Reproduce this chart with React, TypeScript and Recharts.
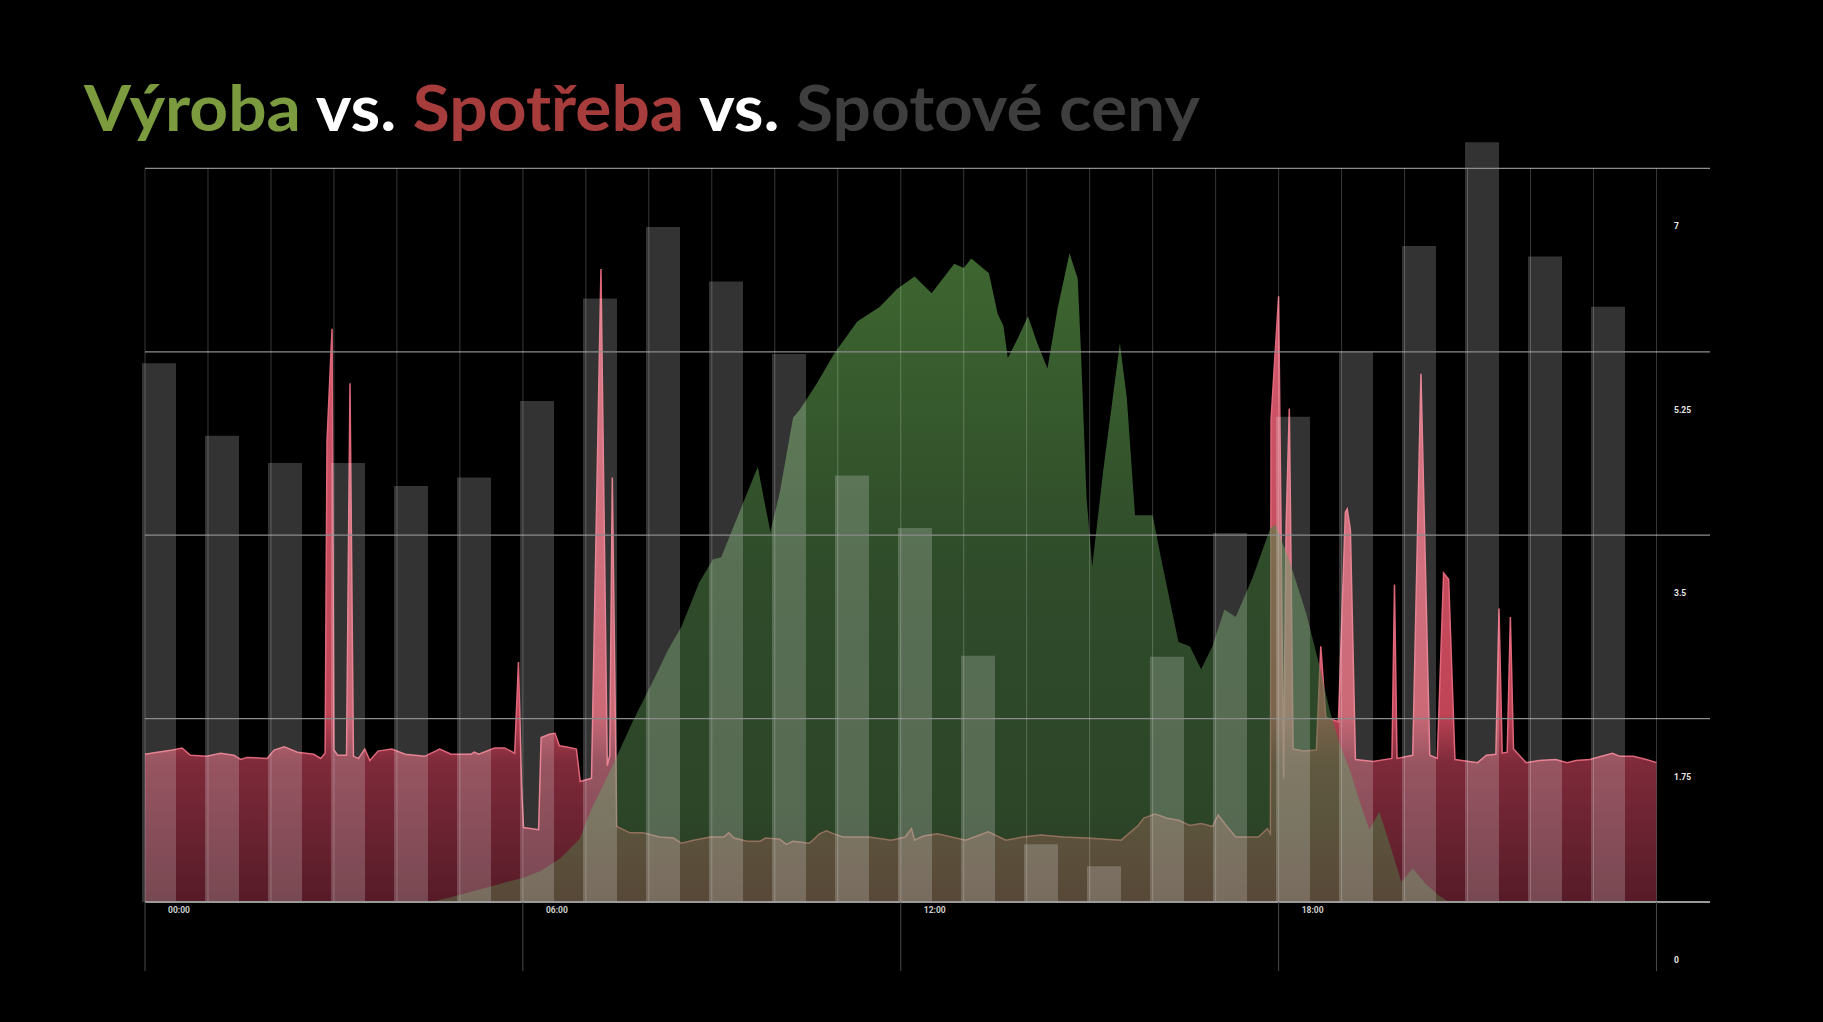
import { ComposedChart, Area, Bar, XAxis, YAxis, ReferenceLine } from 'recharts';

// hourly spot price (bars)
const hours = ['00', '01', '02', '03', '04', '05', '06', '07', '08', '09', '10', '11',
  '12', '13', '14', '15', '16', '17', '18', '19', '20', '21', '22', '23'];
const spotPrice = [5.14, 4.45, 4.19, 4.19, 3.97, 4.05, 4.78, 5.76, 6.44, 5.92, 5.23, 4.07,
  3.57, 2.35, 0.55, 0.34, 2.34, 3.52, 4.63, 5.25, 6.26, 7.25, 6.16, 5.68];

// consumption (red), time in hours
const consumptionTime = [
  0, 0.2, 0.44, 0.59, 0.72, 0.98, 1.2, 1.41, 1.52, 1.62, 1.94, 2.05, 2.21, 2.42, 2.68, 2.79,
  2.86, 2.89, 2.97, 3.0, 3.06, 3.2, 3.255, 3.31, 3.39, 3.49, 3.57, 3.7, 3.92, 4.13, 4.44, 4.68,
  4.86, 5.18, 5.23, 5.3, 5.55, 5.71, 5.87, 5.93, 5.98, 6.01, 6.25, 6.29, 6.42, 6.51, 6.58, 6.7,
  6.85, 6.91, 7.09, 7.24, 7.34, 7.38, 7.42, 7.49, 7.7, 7.91, 8.17, 8.39, 8.52, 8.71, 8.98, 9.19,
  9.27, 9.35, 9.56, 9.77, 9.85, 10.08, 10.18, 10.29, 10.55, 10.71, 10.82, 10.94, 11.08, 11.49,
  11.85, 12.07, 12.17, 12.22, 12.36, 12.58, 13.03, 13.39, 13.67, 13.94, 14.22, 14.58, 14.95,
  15.5, 15.77, 15.86, 16.04, 16.23, 16.41, 16.59, 16.77, 16.95, 17.04, 17.18, 17.32, 17.68,
  17.82, 17.87, 17.88, 18.0, 18.08, 18.12, 18.17, 18.23, 18.4, 18.6, 18.67, 18.75, 18.95,
  19.06, 19.09, 19.14, 19.22, 19.5, 19.8, 19.84, 19.88, 20.13, 20.26, 20.4, 20.52, 20.62,
  20.7, 20.8, 21.16, 21.3, 21.45, 21.5, 21.55, 21.63, 21.68, 21.73, 21.93, 22.14, 22.4, 22.58,
  22.72, 22.94, 23.3, 23.42, 23.63, 23.84, 24,
];
const consumptionValue = [
  1.41, 1.43, 1.45, 1.47, 1.4, 1.39, 1.42, 1.4, 1.36, 1.38, 1.37, 1.45, 1.48, 1.43, 1.41, 1.37,
  1.42, 4.4, 5.47, 1.45, 1.4, 1.4, 4.95, 1.39, 1.37, 1.46, 1.35, 1.44, 1.46, 1.41, 1.39, 1.46,
  1.41, 1.41, 1.43, 1.41, 1.47, 1.47, 1.42, 2.29, 1.1, 0.71, 0.69, 1.57, 1.6, 1.61, 1.49, 1.48,
  1.46, 1.15, 1.18, 6.04, 1.3, 1.4, 4.05, 0.72, 0.66, 0.66, 0.62, 0.61, 0.56, 0.59, 0.62, 0.62,
  0.66, 0.61, 0.58, 0.58, 0.61, 0.6, 0.55, 0.58, 0.56, 0.65, 0.68, 0.65, 0.62, 0.62,
  0.59, 0.62, 0.7, 0.59, 0.63, 0.65, 0.59, 0.67, 0.59, 0.62, 0.64, 0.62, 0.61,
  0.59, 0.73, 0.8, 0.84, 0.8, 0.78, 0.73, 0.75, 0.72, 0.83, 0.72, 0.62, 0.62,
  0.7, 0.65, 4.6, 5.78, 1.18, 3.6, 4.71, 1.46, 1.44, 1.45, 2.44, 1.76, 1.72,
  3.72, 3.75, 3.55, 1.36, 1.34, 1.37, 3.03, 1.37, 1.4, 5.04, 1.4, 1.37, 3.14,
  3.08, 1.36, 1.33, 1.4, 1.41, 2.8, 1.42, 1.43, 2.72, 1.46, 1.33, 1.35, 1.36, 1.33,
  1.35, 1.36, 1.42, 1.39, 1.39, 1.36, 1.33,
];

// production (green)
const productionTime = [
  4.55, 4.95, 5.5, 6.0, 6.3, 6.6, 6.9, 7.1, 7.4, 7.75, 8.1, 8.3, 8.52, 8.8, 9.02, 9.15, 9.37,
  9.73, 9.93, 10.08, 10.29, 10.4, 10.67, 10.94, 11.31, 11.67, 11.94, 12.22, 12.49, 12.85, 13.0,
  13.12, 13.4, 13.54, 13.63, 13.7, 13.86, 14.02, 14.17, 14.33, 14.49, 14.68, 14.81, 14.86,
  14.95, 15.04, 15.22, 15.48, 15.59, 15.72, 16.0, 16.13, 16.41, 16.59, 16.77, 16.95, 17.14,
  17.32, 17.59, 17.87, 17.95, 18.17, 18.44, 18.65, 18.81, 18.97, 19.13, 19.28, 19.44, 19.6,
  19.76, 19.95, 20.13, 20.34, 20.55, 20.7,
];
const productionValue = [
  0, 0.06, 0.15, 0.23, 0.3, 0.42, 0.6, 0.9, 1.27, 1.73, 2.15, 2.4, 2.63, 3.05, 3.27, 3.29, 3.62,
  4.15, 3.53, 3.91, 4.62, 4.7, 4.95, 5.23, 5.54, 5.68, 5.85, 5.97, 5.81, 6.09, 6.05,
  6.14, 6.0, 5.61, 5.5, 5.19, 5.38, 5.59, 5.33, 5.09, 5.66, 6.19, 5.95, 5.28,
  3.86, 3.2, 4.14, 5.33, 4.81, 3.69, 3.69, 3.29, 2.48, 2.44, 2.22, 2.44, 2.79,
  2.72, 3.1, 3.57, 3.6, 3.26, 2.75, 2.25, 1.83, 1.51, 1.26, 0.97, 0.69, 0.86,
  0.56, 0.19, 0.32, 0.17, 0.06, 0,
];

const valueTicks = [0, 1.75, 3.5, 5.25, 7];
const timeTicks = [0, 6, 12, 18, 24];
const timeLabels = ['00:00', '06:00', '12:00', '18:00'];

const priceRows = hours.map((hour, i) => ({ hour, price: spotPrice[i] }));
const consumptionRows = consumptionTime.map((t, i) => ({ t, v: consumptionValue[i] }));
const productionRows = productionTime.map((t, i) => ({ t, v: productionValue[i] }));
const hourLines = Array.from({ length: 25 }, (_, i) => i);

function TimeTick({ x, y, payload }: any) {
  const i = timeTicks.indexOf(payload.value);
  return (
    <g>
      <line x1={x} y1={y} x2={x} y2={y + 69} stroke="#4a4a4a" strokeWidth={1} />
      {timeLabels[i] && (
        <text x={x + 34} y={y + 11} textAnchor="middle" fill="#cfcfcf"
          fontSize={8.5} fontFamily="Roboto" fontWeight={700}>
          {timeLabels[i]}
        </text>
      )}
    </g>
  );
}

function ValueTick({ x, y, payload }: any) {
  return (
    <text x={x - 36} y={y + 61} textAnchor="start" fill="#e8e8e8"
      fontSize={8.5} fontFamily="Roboto" fontWeight={700}>
      {payload.value}
    </text>
  );
}

export default function App() {
  return (
    <div style={{ position: 'absolute', left: 0, top: 0, width: 1823, height: 1022, background: '#000', overflow: 'hidden' }}>
      <svg width={1823} height={170} style={{ position: 'absolute', left: 0, top: 0 }}>
        <text x={84} y={131} fontFamily="Lato" fontWeight={700} fontSize={64}
          textLength={1116} lengthAdjust="spacingAndGlyphs" style={{ whiteSpace: 'pre' }}>
          <tspan fill="#7b9b3e">Výroba</tspan>
          <tspan fill="#ffffff"> vs. </tspan>
          <tspan fill="#a63c3c">Spotřeba</tspan>
          <tspan fill="#ffffff"> vs. </tspan>
          <tspan fill="#3e3e3e">Spotové ceny</tspan>
        </text>
      </svg>
      <div style={{ position: 'absolute', left: 0, top: 0 }}>
        <ComposedChart width={1823} height={1022} data={priceRows}
          margin={{ top: 137, right: 0, bottom: 0, left: 145 }}>
          <defs>
            <linearGradient id="redFill" x1="0" y1="0" x2="0" y2="1">
              <stop offset="0" stopColor="#d25a6c" />
              <stop offset="0.7" stopColor="#bf4456" />
              <stop offset="0.78" stopColor="#7e2a3a" />
              <stop offset="1" stopColor="#561b27" />
            </linearGradient>
            <linearGradient id="greenFill" x1="0" y1="0" x2="0" y2="1">
              <stop offset="0" stopColor="#67aa50" stopOpacity={0.6} />
              <stop offset="0.5" stopColor="#4e7d46" stopOpacity={0.6} />
              <stop offset="0.86" stopColor="#4c7844" stopOpacity={0.58} />
              <stop offset="1" stopColor="#587848" stopOpacity={0.48} />
            </linearGradient>
          </defs>
          <XAxis xAxisId="t" dataKey="t" type="number" domain={[0, 24.85]} ticks={timeTicks}
            height={120} tickSize={0} tickMargin={0} tickLine={false}
            axisLine={{ stroke: '#9a9a9a', strokeWidth: 2 }} tick={<TimeTick />} />
          <XAxis xAxisId="h" dataKey="hour" type="category" hide height={0}
            padding={{ left: -18, right: 71 }} />
          <YAxis yAxisId="v" orientation="right" width={113} domain={[0, 7.3]} ticks={valueTicks}
            axisLine={false} tickLine={false} tickSize={0} tickMargin={0} tick={<ValueTick />} />
          <Area xAxisId="t" yAxisId="v" data={consumptionRows} dataKey="v" type="linear"
            stroke="#e0667a" strokeWidth={1.5} fill="url(#redFill)" fillOpacity={1}
            isAnimationActive={false} />
          <Area xAxisId="t" yAxisId="v" data={productionRows} dataKey="v" type="linear"
            stroke="none" fill="url(#greenFill)" fillOpacity={1} isAnimationActive={false} />
          <Bar xAxisId="h" yAxisId="v" dataKey="price" barSize={34} fill="#ffffff"
            fillOpacity={0.2} isAnimationActive={false} />
          {valueTicks.slice(1).map((v) => (
            <ReferenceLine key={'y' + v} xAxisId="t" yAxisId="v" y={v}
              stroke="#8c8c8c" strokeWidth={1.3} />
          ))}
          {hourLines.map((h) => (
            <ReferenceLine key={h} xAxisId="t" yAxisId="v"
              segment={[{ x: h, y: 0 }, { x: h, y: 7 }]}
              stroke="#ffffff" strokeOpacity={0.22} strokeWidth={1} />
          ))}
        </ComposedChart>
      </div>
    </div>
  );
}
